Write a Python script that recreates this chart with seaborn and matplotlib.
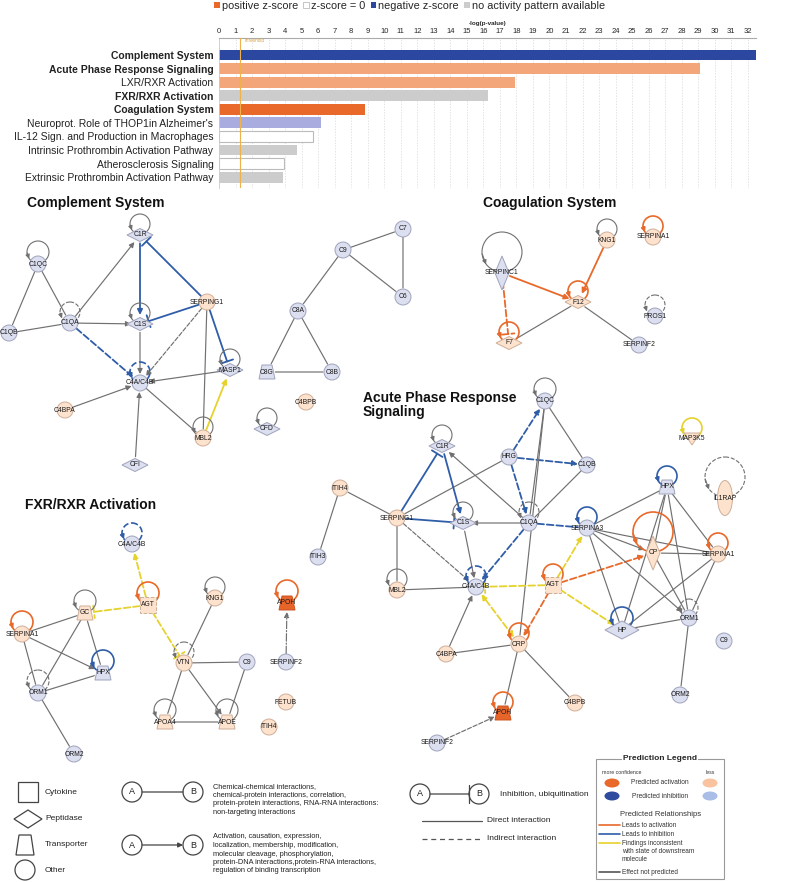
import numpy as np
import pandas as pd
import matplotlib
matplotlib.use("Agg")
import matplotlib.pyplot as plt
import matplotlib.patches as mpatches
import seaborn as sns

# --- 1. Pathway enrichment (bar chart) ---
pathways = ["Complement System", "Acute Phase Response Signaling", "LXR/RXR Activation",
            "FXR/RXR Activation", "Coagulation System", "Neuroprot. Role of THOP1in Alzheimer's",
            "IL-12 Sign. and Production in Macrophages", "Intrinsic Prothrombin Activation Pathway",
            "Atherosclerosis Signaling", "Extrinsic Prothrombin Activation Pathway"]
neg_log_p = [32.5, 29.1, 17.9, 16.3, 8.85, 6.15, 5.7, 4.73, 3.94, 3.85]
zscore_class = ["neg", "pos_light", "pos_light", "none", "pos", "neg_light", "zero", "none", "zero", "none"]
bold_pathways = ["Complement System", "Acute Phase Response Signaling", "FXR/RXR Activation", "Coagulation System"]
threshold = 1.3

class_colors = {"neg": "#2b479f", "pos_light": "#f2a679", "pos": "#e8692a",
                "neg_light": "#a9acdf", "zero": "#ffffff", "none": "#cccccc"}
legend_labels = ["positive z-score", "z-score = 0", "negative z-score", "no activity pattern available"]
legend_classes = ["pos", "zero", "neg", "none"]

# --- 2. Networks: node name -> (x, y, shape, fill) in pixel layout ---
LAV, ORA, DORA = "lav", "ora", "dora"
complement_nodes = {
    "C1R": (140, 235, "diamond", LAV), "C1QC": (38, 264, "circle", LAV), "C1QB": (9, 333, "circle", LAV),
    "C1QA": (70, 323, "circle", LAV), "C1S": (140, 324, "diamond", LAV), "SERPING1": (207, 302, "circle", ORA),
    "MASP1": (230, 370, "diamond", LAV), "C4A/C4B": (140, 383, "circle", LAV), "C4BPA": (65, 410, "circle", ORA),
    "MBL2": (203, 438, "circle", ORA), "CFI": (135, 465, "diamond", LAV), "C9": (343, 250, "circle", LAV),
    "C7": (403, 229, "circle", LAV), "C6": (403, 297, "circle", LAV), "C8A": (298, 311, "circle", LAV),
    "C8G": (267, 372, "trapezoid", LAV), "C8B": (332, 372, "circle", LAV), "C4BPB": (306, 402, "circle", ORA),
    "CFD": (267, 429, "diamond", LAV),
}
complement_loops = [("C1R", "grey", "-", 10), ("C1QC", "grey", "-", 11), ("C1QA", "grey", "--", 10),
                    ("C1S", "grey", "-", 10), ("MASP1", "grey", "-", 10), ("C4A/C4B", "blue", "--", 10),
                    ("MBL2", "grey", "-", 10), ("CFD", "grey", "-", 10)]
complement_edges = [
    ("C1QC", "C1QB", "-", "grey", "-"), ("C1QC", "C1QA", "-", "grey", "-"), ("C1QB", "C1QA", "-", "grey", "-"),
    ("C1QA", "C1R", "->", "grey", "-"), ("C1QA", "C1S", "->", "grey", "-"), ("C1QA", "C4A/C4B", "->", "blue", "--"),
    ("C1R", "C1S", "->", "blue", "-"), ("SERPING1", "C1R", "-|", "blue", "-"), ("SERPING1", "C1S", "-|", "blue", "-"),
    ("SERPING1", "MASP1", "-|", "blue", "-"), ("SERPING1", "C4A/C4B", "->", "grey", "--"),
    ("SERPING1", "MBL2", "-", "grey", "-"), ("C1S", "C4A/C4B", "->", "grey", "-"), ("MASP1", "C4A/C4B", "->", "grey", "-"),
    ("MBL2", "MASP1", "->", "yellow", "-"), ("C4A/C4B", "MBL2", "-", "grey", "-"), ("C4BPA", "C4A/C4B", "->", "grey", "-"),
    ("CFI", "C4A/C4B", "->", "grey", "-"), ("C9", "C7", "-", "grey", "-"), ("C9", "C6", "-", "grey", "-"),
    ("C7", "C6", "-", "grey", "-"), ("C9", "C8A", "-", "grey", "-"), ("C8A", "C8G", "-", "grey", "-"),
    ("C8A", "C8B", "-", "grey", "-"), ("C8G", "C8B", "-", "grey", "-"),
]

coag_nodes = {
    "SERPINC1": (502, 273, "tall_diamond", LAV), "KNG1": (607, 240, "circle", ORA), "SERPINA1": (653, 237, "circle", ORA),
    "F12": (578, 302, "diamond", ORA), "F7": (509, 343, "diamond", ORA), "PROS1": (655, 316, "circle", LAV),
    "SERPINF2": (639, 345, "circle", LAV),
}
coag_loops = [("SERPINC1", "grey", "-", 20), ("KNG1", "grey", "-", 10), ("SERPINA1", "orange", "-", 10),
              ("F12", "orange", "-", 10), ("F7", "orange", "-", 10), ("PROS1", "grey", "--", 10)]
coag_edges = [("SERPINC1", "F12", "->", "orange", "-"), ("KNG1", "F12", "->", "orange", "-"),
              ("SERPINC1", "F7", "-|", "orange", "--"), ("F12", "F7", "-", "grey", "-"),
              ("F12", "SERPINF2", "-", "grey", "-")]

acute_nodes = {
    "C1QC": (545, 401, "circle", LAV), "C1R": (442, 446, "diamond", LAV), "HRG": (509, 457, "circle", LAV),
    "C1QB": (587, 465, "circle", LAV), "MAP3K5": (692, 439, "vtriangle", ORA), "HPX": (667, 487, "trapezoid", LAV),
    "IL1RAP": (725, 498, "ellipse", ORA), "SERPING1": (397, 518, "circle", ORA), "C1S": (463, 523, "diamond", LAV),
    "C1QA": (529, 523, "circle", LAV), "SERPINA3": (587, 528, "circle", LAV), "CP": (653, 553, "tall_diamond", ORA),
    "SERPINA1": (718, 554, "circle", ORA), "MBL2": (397, 590, "circle", ORA), "C4A/C4B": (476, 587, "circle", LAV),
    "AGT": (553, 585, "square", ORA), "ORM1": (689, 618, "circle", LAV), "HP": (622, 630, "big_diamond", LAV),
    "C9": (724, 641, "circle", LAV), "CRP": (519, 644, "circle", ORA), "C4BPA": (446, 654, "circle", ORA),
    "C4BPB": (575, 703, "circle", ORA), "ORM2": (680, 695, "circle", LAV), "APOH": (503, 713, "trapezoid", DORA),
    "SERPINF2": (437, 743, "circle", LAV), "ITIH4": (340, 488, "circle", ORA), "ITIH3": (318, 557, "circle", LAV),
}
acute_loops = [("C1QC", "grey", "-", 11), ("C1R", "grey", "-", 10), ("MAP3K5", "yellow", "-", 10),
               ("HPX", "blue", "-", 10), ("IL1RAP", "grey", "--", 20), ("C1S", "grey", "-", 10),
               ("C1QA", "grey", "--", 10), ("SERPINA3", "blue", "-", 10), ("CP", "orange", "-", 20),
               ("SERPINA1", "orange", "-", 10), ("MBL2", "grey", "-", 10), ("C4A/C4B", "blue", "--", 10),
               ("AGT", "orange", "-", 10), ("ORM1", "grey", "--", 9), ("HP", "blue", "-", 11),
               ("CRP", "orange", "-", 10), ("APOH", "orange", "-", 10)]
acute_edges = [
    ("HRG", "C1QC", "->", "blue", "--"), ("HRG", "C1QB", "->", "blue", "--"), ("HRG", "C1QA", "->", "blue", "--"),
    ("HRG", "SERPING1", "-", "grey", "-"), ("C1QC", "C1QA", "-", "grey", "-"), ("C1QC", "C1QB", "-", "grey", "-"),
    ("C1QC", "CRP", "-", "grey", "-"), ("C1QB", "C1QA", "-", "grey", "-"), ("C1QA", "C1R", "->", "grey", "-"),
    ("C1QA", "C1S", "->", "grey", "-"), ("C1QA", "C4A/C4B", "->", "blue", "--"), ("C1QA", "SERPINA3", "-", "blue", "--"),
    ("C1R", "C1S", "->", "blue", "-"), ("SERPING1", "C1R", "-|", "blue", "-"), ("SERPING1", "C1S", "-|", "blue", "-"),
    ("SERPING1", "C4A/C4B", "->", "grey", "--"), ("SERPING1", "MBL2", "-", "grey", "-"),
    ("SERPING1", "ITIH4", "-", "grey", "-"), ("ITIH4", "ITIH3", "-", "grey", "-"), ("C1S", "C4A/C4B", "->", "grey", "-"),
    ("MBL2", "C4A/C4B", "-", "grey", "-"), ("AGT", "C4A/C4B", "-|", "yellow", "--"),
    ("AGT", "SERPINA3", "->", "yellow", "--"), ("AGT", "HP", "->", "yellow", "--"), ("AGT", "CP", "->", "orange", "--"),
    ("AGT", "CRP", "->", "orange", "--"), ("CRP", "C4A/C4B", "<->", "yellow", "--"),
    ("C4BPA", "C4A/C4B", "->", "grey", "-"), ("C4BPA", "CRP", "-", "grey", "-"), ("CRP", "C4BPB", "-", "grey", "-"),
    ("CRP", "APOH", "-", "grey", "-"), ("SERPINF2", "APOH", "->", "grey", "--"), ("SERPINA3", "CP", "->", "grey", "-"),
    ("SERPINA3", "SERPINA1", "-", "grey", "-"), ("SERPINA3", "HPX", "-", "grey", "-"),
    ("SERPINA3", "ORM1", "->", "grey", "-"), ("SERPINA3", "HP", "-", "grey", "-"), ("HPX", "HP", "-", "grey", "-"),
    ("HPX", "ORM1", "-", "grey", "-"), ("HPX", "SERPINA1", "-", "grey", "-"), ("HPX", "CP", "-", "grey", "-"),
    ("CP", "SERPINA1", "-", "grey", "-"), ("CP", "ORM1", "-", "grey", "-"), ("SERPINA1", "ORM1", "-", "grey", "-"),
    ("SERPINA1", "HP", "-", "grey", "-"), ("HP", "ORM1", "-", "grey", "-"), ("ORM1", "ORM2", "-", "grey", "-"),
]

fxr_nodes = {
    "C4A/C4B": (132, 544, "circle", LAV), "AGT": (148, 605, "square", ORA), "GC": (85, 613, "trapezoid", ORA),
    "SERPINA1": (22, 634, "circle", ORA), "HPX": (103, 673, "trapezoid", LAV), "ORM1": (38, 693, "circle", LAV),
    "ORM2": (74, 754, "circle", LAV), "KNG1": (215, 598, "circle", ORA), "VTN": (184, 663, "circle", ORA),
    "C9": (247, 662, "circle", LAV), "APOA4": (165, 722, "trapezoid", ORA), "APOE": (227, 722, "trapezoid", ORA),
    "APOH": (287, 603, "trapezoid", DORA), "SERPINF2": (286, 662, "circle", LAV), "FETUB": (286, 702, "circle", ORA),
    "ITIH4": (269, 727, "circle", ORA),
}
fxr_loops = [("C4A/C4B", "blue", "--", 10), ("AGT", "orange", "-", 11), ("GC", "grey", "-", 11),
             ("SERPINA1", "orange", "-", 11), ("HPX", "blue", "-", 11), ("ORM1", "grey", "--", 11),
             ("KNG1", "grey", "-", 10), ("VTN", "grey", "--", 10), ("APOA4", "grey", "-", 11),
             ("APOE", "grey", "-", 11), ("APOH", "orange", "-", 11)]
fxr_edges = [
    ("AGT", "C4A/C4B", "->", "yellow", "--"), ("AGT", "GC", "-|", "yellow", "--"), ("AGT", "VTN", "-|", "yellow", "--"),
    ("GC", "SERPINA1", "-", "grey", "-"), ("GC", "ORM1", "-", "grey", "-"), ("GC", "HPX", "-", "grey", "-"),
    ("SERPINA1", "ORM1", "-", "grey", "-"), ("SERPINA1", "HPX", "->", "grey", "-"), ("ORM1", "HPX", "-", "grey", "-"),
    ("ORM1", "ORM2", "-", "grey", "-"), ("KNG1", "VTN", "-", "grey", "-"), ("VTN", "C9", "-", "grey", "-"),
    ("VTN", "APOA4", "-", "grey", "-"), ("VTN", "APOE", "->", "grey", "-"), ("C9", "APOE", "-", "grey", "-"),
    ("APOA4", "APOE", "-", "grey", "-"), ("SERPINF2", "APOH", "->", "grey", "-."),
]

network_titles = ["Complement System", "Coagulation System", "Acute Phase Response\nSignaling", "FXR/RXR Activation"]
title_anchor = [(27, 203), (483, 203), (363, 405), (25, 505)]

fills = {LAV: ("#dcdff0", "#9fa3bb"), ORA: ("#fde2cd", "#cfae98"), DORA: ("#e8652a", "#c95420")}
edge_colors = {"grey": "#707070", "blue": "#2f5da8", "orange": "#e8692a", "yellow": "#e6d22c"}

# --- 3. Figure setup ---
sns.set_theme(style="white")
plt.rcParams["font.family"] = ["Liberation Sans", "DejaVu Sans"]
fig = plt.figure(figsize=(8, 8.82), dpi=100)
ax = fig.add_axes([0, 0, 1, 1])
ax.set_xlim(0, 800)
ax.set_ylim(882, 0)
ax.axis("off")


def draw_node(x, y, shape, fill, label):
    fc, ec = fills[fill]
    kw = dict(facecolor=fc, edgecolor=ec, lw=0.7, zorder=4)
    if shape == "circle":
        p = mpatches.Circle((x, y), 8, **kw)
    elif shape == "diamond":
        p = mpatches.Polygon([(x - 13, y), (x, y - 6.5), (x + 13, y), (x, y + 6.5)], **kw)
    elif shape == "big_diamond":
        p = mpatches.Polygon([(x - 17, y), (x, y - 9), (x + 17, y), (x, y + 9)], **kw)
    elif shape == "tall_diamond":
        p = mpatches.Polygon([(x - 7, y), (x, y - 17), (x + 7, y), (x, y + 17)], **kw)
    elif shape == "trapezoid":
        p = mpatches.Polygon([(x - 8, y + 7), (x + 8, y + 7), (x + 5, y - 7), (x - 5, y - 7)], **kw)
    elif shape == "square":
        p = mpatches.Rectangle((x - 8, y - 8), 16, 16, ls="--", **kw)
    elif shape == "ellipse":
        p = mpatches.Ellipse((x, y), 15, 35, **kw)
    else:
        p = mpatches.Polygon([(x - 8, y - 6), (x + 8, y - 6), (x, y + 6)], **kw)
    ax.add_patch(p)
    ax.text(x, y, label, fontsize=4.9, ha="center", va="center", color="#1a1a1a", zorder=6)


def draw_loop(x, y, color, ls, r):
    c = edge_colors[color]
    lw = 1.2 if color != "grey" else 0.8
    cy = y - r - 1
    ax.add_patch(mpatches.Circle((x, cy), r, fill=False, edgecolor=c, lw=lw, ls=ls, zorder=2))
    ax.annotate("", xy=(x - r * 0.8, cy + r * 0.62), xytext=(x - r * 0.99, cy + r * 0.1),
                arrowprops=dict(arrowstyle="-|>", color=c, lw=lw, mutation_scale=6, shrinkA=0, shrinkB=0),
                zorder=3)


def draw_edge(nodes, a, b, kind, color, ls):
    xa, ya = nodes[a][:2]
    xb, yb = nodes[b][:2]
    c = edge_colors[color]
    lw = 0.85 if color == "grey" else 1.3
    style = {"-": "-", "->": "-|>", "-|": "-[, widthB=0.6, lengthB=0", "<->": "<|-|>"}[kind]
    ax.annotate("", xy=(xb, yb), xytext=(xa, ya),
                arrowprops=dict(arrowstyle=style, color=c, lw=lw, linestyle=ls, mutation_scale=7.5,
                                shrinkA=6, shrinkB=6.5), zorder=1)


for nodes, loops, edges in [(complement_nodes, complement_loops, complement_edges),
                            (coag_nodes, coag_loops, coag_edges),
                            (acute_nodes, acute_loops, acute_edges),
                            (fxr_nodes, fxr_loops, fxr_edges)]:
    for a, b, kind, color, ls in edges:
        draw_edge(nodes, a, b, kind, color, ls)
    for name, color, ls, r in loops:
        draw_loop(nodes[name][0], nodes[name][1], color, ls, r)
    for name, (x, y, shape, fill) in nodes.items():
        draw_node(x, y, shape, fill, name)

for title, (tx, ty) in zip(network_titles, title_anchor):
    ax.text(tx, ty, title, fontsize=10, fontweight="bold", ha="left", va="center", linespacing=1.0, color="#111")

# --- 4. Bottom legend ---
lk = dict(facecolor="white", edgecolor="#444", lw=0.9)
ax.add_patch(mpatches.Rectangle((18, 782), 20, 20, **lk))
ax.add_patch(mpatches.Polygon([(14, 819), (28, 810), (42, 819), (28, 828)], **lk))
ax.add_patch(mpatches.Polygon([(16, 855), (34, 855), (31, 835), (19, 835)], **lk))
ax.add_patch(mpatches.Circle((25, 870), 10, **lk))
for lbl, ly in zip(["Cytokine", "Peptidase", "Transporter", "Other"], [792, 819, 845, 870]):
    ax.text(45, ly, lbl, fontsize=6, va="center", color="#222")

for (ax_, bx_, ly, style) in [(132, 193, 792, "-"), (132, 193, 845, "-|>"), (420, 479, 794, "-[, widthB=0.9, lengthB=0")]:
    for cx, letter in [(ax_, "A"), (bx_, "B")]:
        ax.add_patch(mpatches.Circle((cx, ly), 10, **lk))
        ax.text(cx, ly, letter, fontsize=6.5, ha="center", va="center", color="#222")
    ax.annotate("", xy=(bx_ - 10, ly), xytext=(ax_ + 10, ly),
                arrowprops=dict(arrowstyle=style, color="#444", lw=0.9, mutation_scale=7, shrinkA=0, shrinkB=0))

ax.text(213, 799.5, "Chemical-chemical interactions,\nchemical-protein interactions, correlation,\n"
        "protein-protein interactions, RNA-RNA interactions:\nnon-targeting interactions",
        fontsize=5.3, va="center", linespacing=1.3, color="#222")
ax.text(213, 854, "Activation, causation, expression,\nlocalization, membership, modification,\n"
        "molecular cleavage, phosphorylation,\nprotein-DNA interactions,protein-RNA interactions,\n"
        "regulation of binding transcription", fontsize=5.3, va="center", linespacing=1.3, color="#222")
ax.text(500, 794, "Inhibition, ubiquitination", fontsize=6, va="center", color="#222")
ax.plot([422, 482], [821, 821], color="#555", lw=0.9)
ax.text(487, 821, "Direct interaction", fontsize=6, va="center", color="#222")
ax.plot([422, 482], [839, 839], color="#555", lw=0.9, ls=(0, (4, 3)))
ax.text(487, 839, "Indirect interaction", fontsize=6, va="center", color="#222")

# prediction legend box
ax.add_patch(mpatches.Rectangle((596, 759), 128, 120, fill=False, edgecolor="#999", lw=0.8))
ax.text(660, 759, "Prediction Legend", fontsize=6, fontweight="bold", ha="center", va="center",
        bbox=dict(facecolor="white", edgecolor="none", pad=1))
ax.text(602, 772, "more confidence", fontsize=3.8, va="center", color="#333")
ax.text(710, 772, "less", fontsize=3.8, ha="center", va="center", color="#333")
for ly, dark, light, lbl in [(783, "#e8692a", "#f8c39e", "Predicted activation"),
                             (796, "#2e4b9f", "#a9bde6", "Predicted inhibition")]:
    ax.add_patch(mpatches.Ellipse((612, ly), 15, 9, facecolor=dark, edgecolor="none"))
    ax.add_patch(mpatches.Ellipse((710, ly), 15, 9, facecolor=light, edgecolor="none"))
    ax.text(660, ly, lbl, fontsize=4.8, ha="center", va="center", color="#333")
ax.text(661, 814, "Predicted Relationships", fontsize=5.5, ha="center", va="center", color="#333")
for ly, col, lbl in [(825, "#e8692a", "Leads to activation"), (834, "#2f5da8", "Leads to inhibition"),
                     (843, "#e6d22c", "Findings inconsistent\nwith state of downstream\nmolecule"),
                     (872, "#555555", "Effect not predicted")]:
    ax.plot([599, 620], [ly, ly], color=col, lw=1.2)
    ax.text(622, ly - 3, lbl, fontsize=4.7, va="top", linespacing=1.2, color="#333")

# --- 5. Bar chart ---
axb = fig.add_axes([219 / 800, 1 - 188 / 882, (756 - 219) / 800, (188 - 38) / 882])
df = pd.DataFrame({"pathway": pathways, "neg_log_p": neg_log_p, "cls": zscore_class})
palette = {p: class_colors[c] for p, c in zip(pathways, zscore_class)}
sns.barplot(data=df, x="neg_log_p", y="pathway", hue="pathway", palette=palette, legend=False,
            ax=axb, width=0.8, orient="h", saturation=1)
for patch, cls in zip(axb.patches, zscore_class):
    if cls == "zero":
        patch.set_edgecolor("#bbbbbb")
        patch.set_linewidth(0.8)
    else:
        patch.set_edgecolor("none")
axb.set_xlim(0, 32.5)
axb.set_ylim(9.8, -1.25)
axb.set_xticks(range(33))
axb.xaxis.tick_top()
axb.xaxis.set_label_position("top")
axb.set_xlabel("-log(p-value)", fontsize=4.5, labelpad=2, fontweight="bold")
axb.set_ylabel("")
axb.tick_params(axis="x", labelsize=5.5, length=0, pad=2)
axb.tick_params(axis="y", labelsize=7.5, length=0, pad=4, labelcolor="#222")
for t in axb.get_yticklabels():
    if t.get_text() in bold_pathways:
        t.set_fontweight("bold")
axb.xaxis.grid(True, color="#d8d8d8", lw=0.5, ls=(0, (2, 2)))
axb.set_axisbelow(True)
for s in ["right", "bottom"]:
    axb.spines[s].set_visible(False)
axb.spines["top"].set_color("#aaaaaa")
axb.spines["top"].set_linewidth(0.8)
axb.spines["left"].set_color("#cccccc")
axb.spines["left"].set_linewidth(0.6)
axb.set_facecolor("none")
axb.axvline(threshold, color="#f0b04a", lw=0.8, zorder=5)
axb.text(threshold + 0.2, -1.05, "Threshold", fontsize=3.3, color="#d9a040", va="center")

handles = [mpatches.Patch(facecolor=class_colors[c], edgecolor="#bbbbbb" if c == "zero" else "none", lw=0.6)
           for c in legend_classes]
fig.legend(handles, legend_labels, loc="upper left", bbox_to_anchor=(214 / 800, 1 - 1 / 882), ncol=4,
           frameon=False, fontsize=7.8, handlelength=0.55, handleheight=0.55, handletextpad=0.15,
           columnspacing=0.5, borderpad=0, borderaxespad=0)

fig.savefig("out.png", dpi=100)
